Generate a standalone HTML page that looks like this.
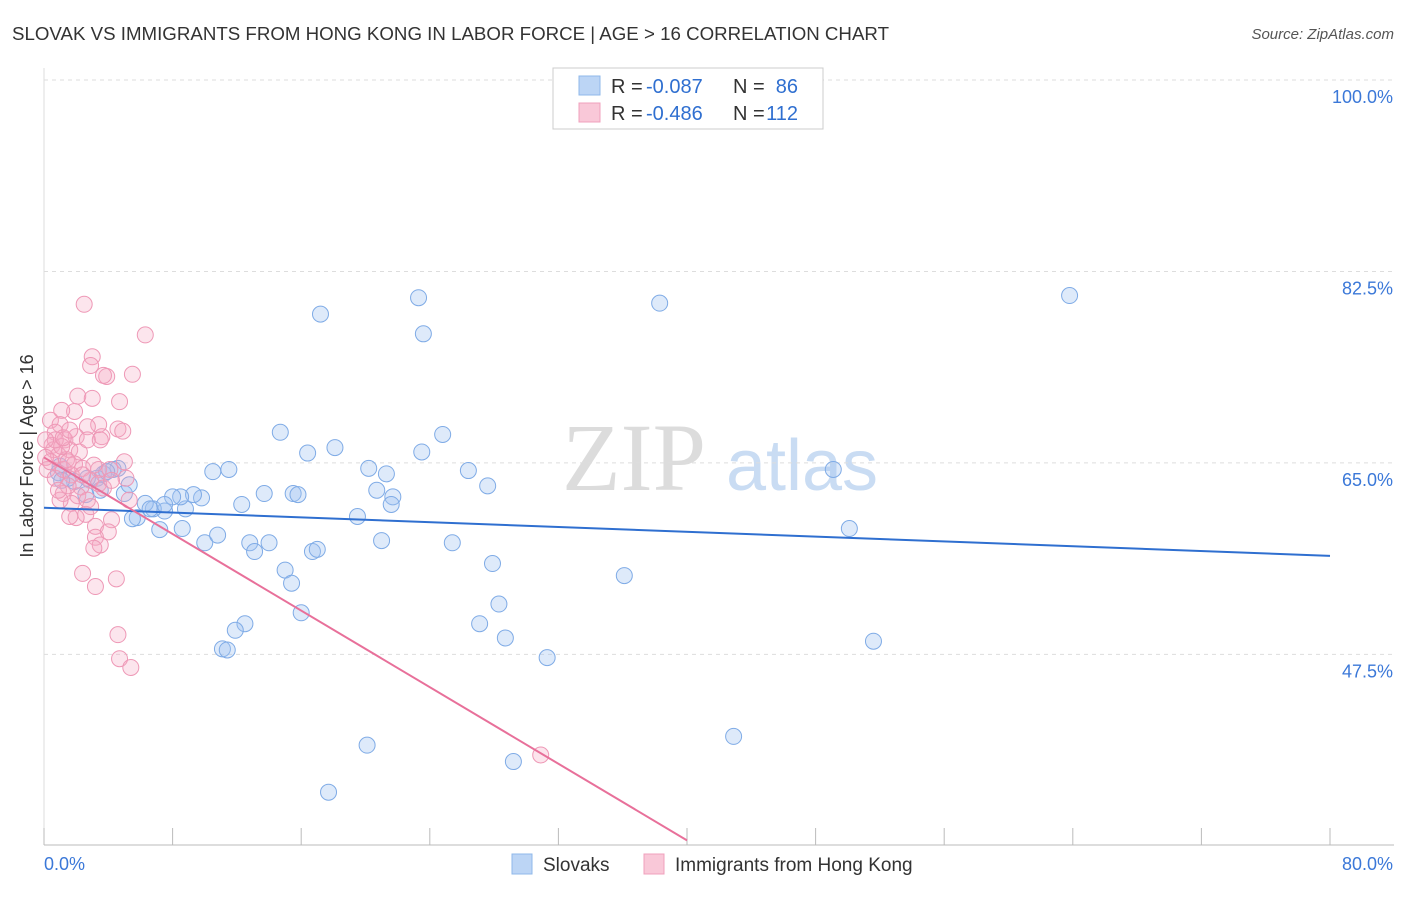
<!DOCTYPE html>
<html><head><meta charset="utf-8"><style>
body{margin:0;background:#fff;font-family:"Liberation Sans",sans-serif;}
</style></head><body>
<svg id="chart" width="1406" height="892" xmlns="http://www.w3.org/2000/svg" font-family="Liberation Sans, sans-serif">
<text x="12" y="40" font-size="18" fill="#333" textLength="877" lengthAdjust="spacingAndGlyphs">SLOVAK VS IMMIGRANTS FROM HONG KONG IN LABOR FORCE | AGE &gt; 16 CORRELATION CHART</text>
<text x="1394" y="39" font-size="15" fill="#555" text-anchor="end" font-style="italic">Source: ZipAtlas.com</text>
<g>
<text x="634" y="490" font-size="96" fill="#dcdcdc" text-anchor="middle" font-family="Liberation Serif, serif">ZIP</text>
<text x="802" y="490" font-size="72" fill="#c9dcf3" text-anchor="middle">atlas</text>
</g>
<g id="grid"></g>
<g id="axes"></g>
<g id="marks"></g>
<g>
<rect x="553" y="68" width="270" height="61" fill="#fff" stroke="#ccc"/>
<rect x="579" y="76" width="21" height="19" fill="#bcd5f5" stroke="#8fb8ea"/>
<rect x="579" y="103" width="21" height="19" fill="#f9c8d8" stroke="#f0a0bc"/>
<text x="611" y="93" font-size="20" fill="#333">R =</text>
<text x="646" y="93" font-size="20" fill="#2f6fd0">-0.087</text>
<text x="733" y="93" font-size="20" fill="#333">N =</text>
<text x="798" y="93" font-size="20" fill="#2f6fd0" text-anchor="end">86</text>
<text x="611" y="120" font-size="20" fill="#333">R =</text>
<text x="646" y="120" font-size="20" fill="#2f6fd0">-0.486</text>
<text x="733" y="120" font-size="20" fill="#333">N =</text>
<text x="798" y="120" font-size="20" fill="#2f6fd0" text-anchor="end">112</text>
</g>
<g>
<rect x="512" y="854" width="20" height="20" fill="#bcd5f5" stroke="#8fb8ea"/>
<text x="543" y="871" font-size="19" fill="#333">Slovaks</text>
<rect x="644" y="854" width="20" height="20" fill="#f9c8d8" stroke="#f0a0bc"/>
<text x="675" y="871" font-size="19" fill="#333">Immigrants from Hong Kong</text>
</g>
</svg>
<script>
const yTicks=[100,82.5,65,47.5];
const yTickLabels=["100.0%","82.5%","65.0%","47.5%"];
const xTickCount=[0,8,16,24,32,40,48,56,64,72,80];
const blueX=[23.3,38.3,63.8,17.2,23.6,14.7,16.4,18.1,23.5,24.8,26.4,27.6,20.2,21.3,20.7,21.7,21.6,19.5,21.0,25.4,27.9,28.3,27.1,28.7,31.3,36.1,49.1,50.1,51.6,42.9,29.2,20.1,17.7,10.5,11.5,13.7,15.5,15.8,12.3,9.8,9.3,8.8,8.5,8.0,7.5,6.8,6.3,7.2,8.6,10.0,10.8,12.8,13.1,14.0,15.0,15.4,16.0,16.7,17.0,12.5,11.9,11.1,11.4,5.0,4.6,4.3,3.7,3.3,3.5,2.6,1.9,1.5,1.0,0.9,5.8,5.5,5.3,1.1,2.7,3.9,6.6,7.5];
const blueY=[80.1,79.6,80.3,78.6,76.8,67.8,65.9,66.4,66.0,67.6,64.3,62.9,64.5,64.0,62.5,61.9,61.2,60.1,57.9,57.7,55.8,52.1,50.3,49.0,47.2,54.7,64.4,59.0,48.7,40.0,37.7,39.2,34.9,64.2,64.4,62.2,62.2,62.1,61.2,61.8,62.1,60.8,61.9,61.9,60.6,60.8,61.3,58.9,59.0,57.7,58.4,57.7,56.9,57.7,55.2,54.0,51.3,56.9,57.1,50.3,49.7,48.0,47.9,62.2,64.5,64.4,64.0,63.6,62.5,62.1,63.3,63.6,64.7,64.1,60.0,59.9,63.0,63.4,63.6,64.2,60.8,61.2];
const pinkX=[2.5,6.3,3.0,2.9,5.5,3.9,3.7,2.1,3.0,4.7,1.9,1.1,4.6,4.9,3.6,3.4,2.7,0.4,1.0,0.7,1.3,0.5,1.6,2.2,0.9,1.4,1.9,0.2,0.7,1.2,2.4,3.4,4.1,5.0,5.1,2.9,2.3,2.1,1.2,2.7,1.7,3.4,3.7,5.3,2.6,2.0,1.6,2.9,4.2,3.2,4.0,3.2,3.5,3.1,2.4,3.2,4.5,4.6,4.7,5.4,30.9,1.0,1.5,2.0,2.7,3.5,0.6,0.1,1.1,1.7,2.4,3.1,4.2,1.5,0.9,0.4,0.7,1.2,1.6,0.1];
const pinkY=[79.5,76.7,74.7,73.9,73.1,72.9,73.0,71.1,70.9,70.6,69.7,69.8,68.1,67.9,67.4,68.5,68.3,68.9,68.5,67.8,67.1,66.6,66.2,66.0,65.7,65.3,64.9,64.4,63.6,64.4,64.5,64.4,64.4,65.1,63.6,63.4,62.8,62.0,62.2,61.6,61.3,63.1,62.7,61.6,60.3,60.0,60.1,61.0,59.8,59.2,58.7,58.2,57.5,57.2,54.9,53.7,54.4,49.3,47.1,46.3,38.3,61.6,65.1,67.4,67.1,67.1,66.2,65.5,66.5,63.9,63.9,64.8,63.4,62.9,62.5,65.1,67.1,67.3,68.0,67.1];
const blueTrend=[[0,60.9],[80,56.5]];
const pinkTrend=[[0,65.5],[40,30.5]];

const NS="http://www.w3.org/2000/svg";
const X=v=>44+v*16.075;
const Y=v=>80+(100-v)*10.94;
function mk(tag,attrs,parent){const e=document.createElementNS(NS,tag);for(const k in attrs)e.setAttribute(k,attrs[k]);parent.appendChild(e);return e;}
const grid=document.getElementById('grid'),axes=document.getElementById('axes'),marks=document.getElementById('marks');
yTicks.forEach((t,i)=>{
 const l=mk('line',{x1:44,x2:1394,y1:Y(t),y2:Y(t),stroke:'#ddd','stroke-dasharray':'4,4'},grid);
 
 
 const tx=mk('text',{x:1393,y:Y(t)+23,'font-size':18,fill:'#3b78d8','text-anchor':'end'},axes);
 tx.textContent=yTickLabels[i];
 
 
});
mk('line',{x1:44,x2:1394,y1:845,y2:845,stroke:'#bbb'},axes);
mk('line',{x1:44,x2:44,y1:68,y2:845,stroke:'#ddd'},axes);
xTickCount.forEach(t=>{
 const l=mk('line',{x1:X(t),x2:X(t),y1:828,y2:845,stroke:'#bbb'},axes);
 
 
});
const xl=mk('text',{x:44,y:870,'font-size':18,fill:'#3b78d8'},axes);xl.textContent='0.0%';


const xr=mk('text',{x:1393,y:870,'font-size':18,fill:'#3b78d8','text-anchor':'end'},axes);xr.textContent='80.0%';


const yt=mk('text',{x:33,y:456,'font-size':18,fill:'#333','text-anchor':'middle',transform:'rotate(-90 33 456)'},axes);yt.textContent='In Labor Force | Age > 16';


blueX.forEach((v,i)=>{
 const c=mk('circle',{cx:X(v),cy:Y(blueY[i]),r:8,fill:'rgba(160,196,240,0.35)',stroke:'#7fabe6','stroke-width':1},marks);
 
 
});
pinkX.forEach((v,i)=>{
 const c=mk('circle',{cx:X(v),cy:Y(pinkY[i]),r:8,fill:'rgba(245,170,195,0.3)',stroke:'#ee98b6','stroke-width':1},marks);
 
 
});
const bl=mk('line',{x1:X(blueTrend[0][0]),y1:Y(blueTrend[0][1]),x2:X(blueTrend[1][0]),y2:Y(blueTrend[1][1]),stroke:'#2f6fd0','stroke-width':2},marks);


const pl=mk('line',{x1:X(pinkTrend[0][0]),y1:Y(pinkTrend[0][1]),x2:X(pinkTrend[1][0]),y2:Y(pinkTrend[1][1]),stroke:'#e8709a','stroke-width':2},marks);


</script>
</body></html>
